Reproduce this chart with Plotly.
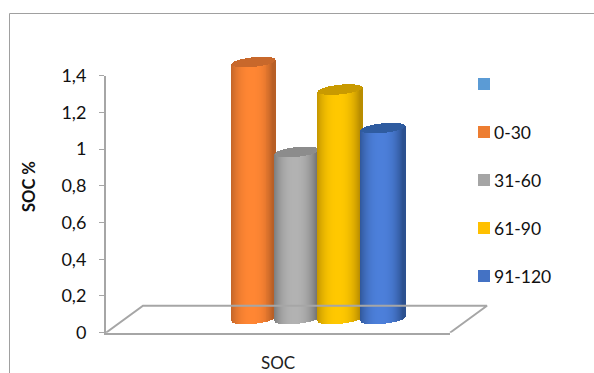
import numpy as np
import plotly.graph_objects as go

W, H = 594, 373

# Chart data
category = "SOC"
y_title = "SOC %"
series_names = ["", "0-30", "31-60", "61-90", "91-120"]
series_values = [None, 1.40, 0.91, 1.25, 1.04]
y_ticks = [0, 0.2, 0.4, 0.6, 0.8, 1.0, 1.2, 1.4]
y_tick_labels = ["0", "0,2", "0,4", "0,6", "0,8", "1", "1,2", "1,4"]

# Colours per series: legend swatch, lit centre, shaded edge, lid
swatch = ["#5B9BD5", "#ED7D31", "#A5A5A5", "#FFC000", "#4472C4"]
centre = ["#5B9BD5", "#FF8633", "#B2B2B2", "#FFC800", "#4C7FDA"]
edge = ["#3A6A96", "#B85F26", "#747474", "#B98D00", "#2C5190"]
lid = ["#3F75A8", "#C8682B", "#8C8C8C", "#C99A00", "#2F5CA0"]

GRID = "#A6A6A6"
FONT = "Lato, Carlito, 'Open Sans', sans-serif"

# Axis box in pixels, plus a larger canvas box for the 3-D marks
left, right, top, bottom = 106, 450, 75.7, 332.7
canvas_right, canvas_top = 520, 30
px_per_unit_y = (bottom - top) / 1.4
px_per_slot = 43.2
slot0_px = 210.5  # centre of the first series slot

x0 = (left - slot0_px) / px_per_slot
x1 = (right - slot0_px) / px_per_slot
x1_canvas = (canvas_right - slot0_px) / px_per_slot
y1_canvas = (bottom - canvas_top) / px_per_unit_y

# 3-D floor and cylinder proportions, in data units
floor_dx = 37 / px_per_slot
floor_dy = 27 / px_per_unit_y
base_level = 13.7 / px_per_unit_y
ry = 4.8 / px_per_unit_y
tilt = 2.2 / px_per_unit_y
half_w = 0.505


def mix(a, b, t):
    ca = [int(a[i:i + 2], 16) for i in (1, 3, 5)]
    cb = [int(b[i:i + 2], 16) for i in (1, 3, 5)]
    return "rgb(%d,%d,%d)" % tuple(round(p + (q - p) * t) for p, q in zip(ca, cb))


fig = go.Figure()

# Blank first series keeps the labelled axes alive
fig.add_trace(go.Bar(x=[0], y=[series_values[0]], name=series_names[0], showlegend=False,
                     xaxis="x", yaxis="y", hoverinfo="skip"))

# Floor of the 3-D box, drawn behind the bars
fig.add_trace(go.Scatter(
    x=[x0, x0 + floor_dx, x1 + floor_dx, x1],
    y=[0, floor_dy, floor_dy, 0],
    mode="lines", line=dict(color=GRID, width=2),
    xaxis="x2", yaxis="y2", showlegend=False, hoverinfo="skip",
))

# Each cylinder is a fan of thin bars: the body is shaded across its width
# and the elliptical ends come from the varying bar lengths.
u = np.linspace(-1, 1, 45)
strip = 2 * half_w / (len(u) - 1) * 1.2
for i, (name, val) in enumerate(zip(series_names, series_values)):
    if val is None:
        continue
    s = np.sqrt(1 - u ** 2)
    xs = i + u * half_w
    slant = tilt * u
    shade = np.clip(np.abs(u + 0.08), 0, 1) ** 2.4
    body_low = base_level - ry * s + slant
    body_high = base_level + val + slant
    fig.add_trace(go.Bar(
        x=xs, y=body_high - body_low, base=body_low, width=strip,
        name=name, xaxis="x2", yaxis="y2", showlegend=False,
        marker=dict(color=[mix(centre[i], edge[i], t) for t in shade], line=dict(width=0)),
    ))
    fig.add_trace(go.Bar(
        x=xs, y=2 * ry * s, base=body_high - ry * s, width=strip,
        name=name, xaxis="x2", yaxis="y2", showlegend=False,
        marker=dict(color=lid[i], line=dict(width=0)),
    ))

# Outer frame: only the top and left sides show
shapes = [
    dict(type="line", xref="paper", yref="paper", x0=9.5 / W, x1=1, y0=1 - 13.5 / H, y1=1 - 13.5 / H,
         line=dict(color="#A0A0A0", width=1)),
    dict(type="line", xref="paper", yref="paper", x0=9.5 / W, x1=9.5 / W, y0=0, y1=1 - 13.5 / H,
         line=dict(color="#A0A0A0", width=1)),
]

# Value axis title
annotations = [dict(xref="paper", yref="paper", x=29 / W, y=1 - 187 / H,
                    xanchor="center", yanchor="middle", showarrow=False, textangle=-90,
                    text="<b>%s</b>" % y_title,
                    font=dict(family=FONT, size=16.5, color="#111111"))]

# Legend column
for i, name in enumerate(series_names):
    cy = 84 + 48 * i
    shapes.append(dict(type="rect", xref="paper", yref="paper",
                       x0=478 / W, x1=490 / W, y0=1 - (cy - 6) / H, y1=1 - (cy + 6) / H,
                       fillcolor=swatch[i], line=dict(width=0)))
    if name:
        annotations.append(dict(xref="paper", yref="paper", x=494 / W, y=1 - cy / H,
                                xanchor="left", yanchor="middle", showarrow=False, text=name,
                                xshift=-2, font=dict(family=FONT, size=17.5, color="#111111")))

fig.update_layout(
    width=W, height=H, margin=dict(l=0, r=0, t=0, b=0),
    paper_bgcolor="white", plot_bgcolor="rgba(0,0,0,0)",
    barmode="overlay", bargap=0, showlegend=False,
    shapes=shapes, annotations=annotations,
    xaxis=dict(
        domain=[left / W, right / W], range=[x0, x1], automargin=False,
        showgrid=False, zeroline=False, showline=True, linecolor=GRID, linewidth=2,
        ticks="", tickvals=[(x0 + x1) / 2], ticktext=[category],
        ticklabelstandoff=14, tickfont=dict(family=FONT, size=17, color="#222222"),
    ),
    yaxis=dict(
        domain=[1 - bottom / H, 1 - top / H], range=[0, 1.4], anchor="x", automargin=False,
        showgrid=False, zeroline=False, showline=True, linecolor=GRID, linewidth=2,
        ticks="outside", ticklen=5, tickwidth=1, tickcolor=GRID,
        tickvals=y_ticks, ticktext=y_tick_labels, ticklabelstandoff=9,
        tickfont=dict(family=FONT, size=18, color="#111111"),
    ),
    xaxis2=dict(domain=[left / W, canvas_right / W], range=[x0, x1_canvas], anchor="y2", visible=False),
    yaxis2=dict(domain=[1 - bottom / H, 1 - canvas_top / H], range=[0, y1_canvas], anchor="x2", visible=False),
)

fig.write_html("out.html")
